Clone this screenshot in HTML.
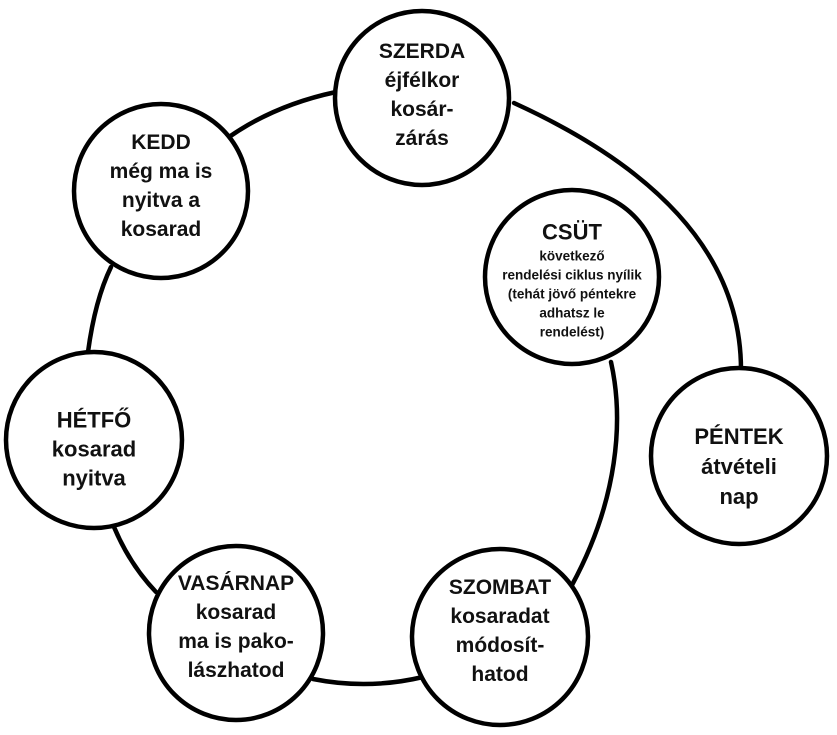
<!DOCTYPE html>
<html><head><meta charset="utf-8"><style>
html,body{margin:0;padding:0;background:#fff;}
body{width:837px;height:735px;position:relative;overflow:hidden;font-family:"Liberation Sans",sans-serif;font-weight:bold;color:#111;}
svg{position:absolute;left:0;top:0;}
.t{position:absolute;width:180px;text-align:center;font-size:21px;line-height:29px;transform:translate(-50%,-50%);}
.s{font-size:13.5px;line-height:19px;}
</style></head><body>
<svg width="837" height="735" viewBox="0 0 837 735">
<g fill="none" stroke="#000" stroke-width="4.5" stroke-linecap="round">
<path d="M336,92 Q275,105 229,137"/>
<path d="M514,103 C650,165 741,250 741,370"/>
<path d="M111,267 Q95,300 88,352"/>
<path d="M114,527 Q130,565 156,592"/>
<path d="M313,679 Q368,690 423,677"/>
<path d="M611,362 C624,420 618,500 572,585"/>
</g>
<g fill="#fff" stroke="#000" stroke-width="4.5">
<circle cx="422" cy="98" r="87"/>
<circle cx="161" cy="191" r="87"/>
<circle cx="572" cy="277" r="87"/>
<circle cx="739" cy="456" r="88"/>
<circle cx="94" cy="440" r="88"/>
<circle cx="236" cy="633" r="87"/>
<circle cx="500" cy="637" r="88"/>
</g>
</svg>
<div class="t" style="left:422px;top:95px">SZERDA<br>éjfélkor<br>kosár-<br>zárás</div>
<div class="t" style="left:161px;top:186px">KEDD<br>még ma is<br>nyitva a<br>kosarad</div>
<div class="t" style="left:572px;top:280px"><div style="font-size:22px;line-height:28px">CSÜT</div><div class="s">következő<br>rendelési ciklus nyílik<br>(tehát jövő péntekre<br>adhatsz le<br>rendelést)</div></div>
<div class="t" style="left:739px;top:467px;line-height:30px;font-size:22px">PÉNTEK<br>átvételi<br>nap</div>
<div class="t" style="left:94px;top:449px;line-height:29px;font-size:22px">HÉTFŐ<br>kosarad<br>nyitva</div>
<div class="t" style="left:236px;top:627px">VASÁRNAP<br>kosarad<br>ma is pako-<br>lászhatod</div>
<div class="t" style="left:500px;top:631px">SZOMBAT<br>kosaradat<br>módosít-<br>hatod</div>
</body></html>
